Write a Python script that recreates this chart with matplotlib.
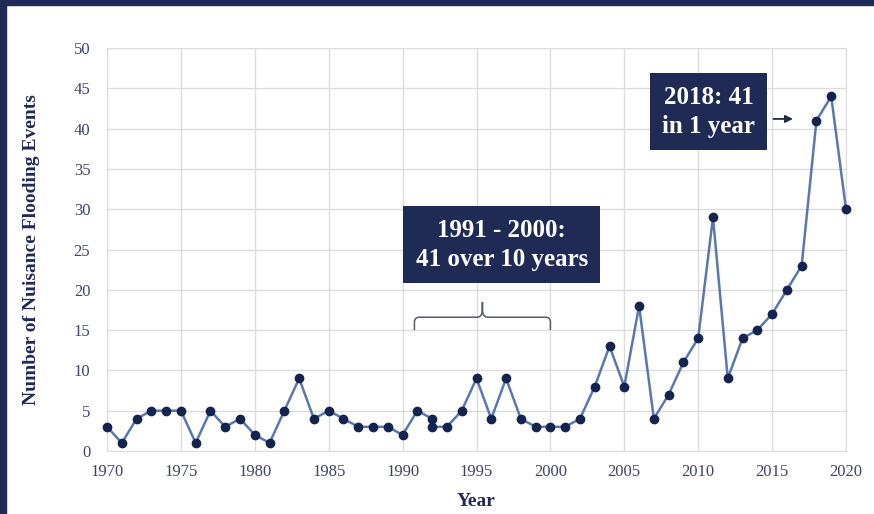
import matplotlib
matplotlib.use("Agg")
import matplotlib.pyplot as plt
from matplotlib.patches import Rectangle, PathPatch
from matplotlib.path import Path

# ==========================================================
# Data (1992 has two points)
# ==========================================================
years = [1970, 1971, 1972, 1973, 1974, 1975, 1976, 1977, 1978, 1979,
         1980, 1981, 1982, 1983, 1984, 1985, 1986, 1987, 1988, 1989,
         1990, 1991, 1992, 1992, 1993, 1994, 1995, 1996, 1997, 1998,
         1999, 2000, 2001, 2002, 2003, 2004, 2005, 2006, 2007, 2008,
         2009, 2010, 2011, 2012, 2013, 2014, 2015, 2016, 2017, 2018,
         2019, 2020]
events = [3, 1, 4, 5, 5, 5, 1, 5, 3, 4,
          2, 1, 5, 9, 4, 5, 4, 3, 3, 3,
          2, 5, 4, 3, 3, 5, 9, 4, 9, 4,
          3, 3, 3, 4, 8, 13, 8, 18, 4, 7,
          11, 14, 29, 9, 14, 15, 17, 20, 23, 41,
          44, 30]

x_ticks = list(range(1970, 2021, 5))
y_ticks = list(range(0, 51, 5))

box_period = "1991 - 2000:\n41 over 10 years"
box_peak = "2018: 41\nin 1 year"

navy = "#1f2a55"
line_col = "#5878ae"
dot_col = "#14244f"
tick_col = "#3d4466"

plt.rcParams['font.family'] = ['Liberation Serif', 'DejaVu Serif']

fig = plt.figure(figsize=(8.74, 5.14), dpi=100)
ax = fig.add_axes([107 / 874, 63 / 514, 739 / 874, 403 / 514])

ax.plot(years, events, color=line_col, lw=1.8, marker="o", ms=6,
        mfc=dot_col, mec=dot_col, zorder=3, clip_on=False)

ax.set_xlim(1970, 2020)
ax.set_ylim(0, 50)
ax.set_xticks(x_ticks)
ax.set_yticks(y_ticks)
ax.grid(True, color="#dcdcdc", lw=1.0)
ax.set_axisbelow(True)
for s in ax.spines.values():
    s.set_color("#dcdcdc")
ax.tick_params(length=0, labelsize=12, colors=tick_col)
ax.tick_params(axis="y", pad=12)
ax.tick_params(axis="x", pad=9)

ax.set_ylabel("Number of Nuisance Flooding Events", fontsize=14,
              fontweight="bold", color=navy)
ax.yaxis.set_label_coords(-0.090, 0.50)
ax.set_xlabel("Year", fontsize=14, fontweight="bold", color=navy, labelpad=10)

# curly brace over 1991 - 2000
bx0, bx1, bmid = 1990.8, 2000.0, 1995.4
yb, yt, ytip = 15.0, 16.6, 18.5
r = 0.35
verts = [(bx0, yb), (bx0, yt - 0.6), (bx0, yt), (bx0 + r, yt),
         (bmid - r, yt), (bmid, yt), (bmid, ytip - 0.9), (bmid, ytip),
         (bmid, ytip - 0.9), (bmid, yt), (bmid + r, yt),
         (bx1 - r, yt), (bx1, yt), (bx1, yt - 0.6), (bx1, yb)]
codes = [Path.MOVETO, Path.LINETO, Path.CURVE3, Path.CURVE3,
         Path.LINETO, Path.CURVE3, Path.CURVE3, Path.LINETO,
         Path.LINETO, Path.CURVE3, Path.CURVE3,
         Path.LINETO, Path.CURVE3, Path.CURVE3, Path.LINETO]
ax.add_patch(PathPatch(Path(verts, codes), fc="none", ec="#555a66", lw=1.1))

# annotation boxes
ax.text(1996.7, 25.6, box_period, ha="center", va="center", fontsize=18,
        fontweight="bold", color="white", linespacing=1.35,
        bbox=dict(boxstyle="square,pad=0.5", fc=navy, ec="none"))
ax.text(2010.7, 42.1, box_peak, ha="center", va="center", fontsize=18,
        fontweight="bold", color="white", linespacing=1.35,
        bbox=dict(boxstyle="square,pad=0.5", fc=navy, ec="none"))
ax.annotate("", xy=(2016.6, 41.2), xytext=(2014.9, 41.2),
            arrowprops=dict(arrowstyle="-|>", color="#222a44", lw=1.3,
                            mutation_scale=11))

# navy frame on top and left
fig.patches.append(Rectangle((0, 0), 6 / 874, 1, transform=fig.transFigure,
                             color=navy, zorder=10))
fig.patches.append(Rectangle((0, 1 - 5 / 514), 1, 5 / 514,
                             transform=fig.transFigure, color=navy, zorder=10))

fig.savefig("out.png", dpi=100)
